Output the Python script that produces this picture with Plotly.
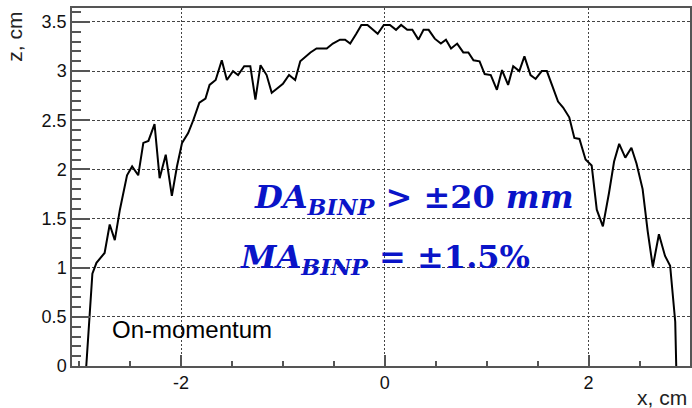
import plotly.graph_objects as go

# Dynamic aperture boundary, on-momentum
x_cm = [-2.93, -2.87, -2.83, -2.75, -2.70, -2.65, -2.60, -2.53, -2.48, -2.42,
        -2.37, -2.32, -2.26, -2.21, -2.15, -2.09, -2.04, -1.99, -1.93, -1.88,
        -1.82, -1.76, -1.72, -1.66, -1.60, -1.55, -1.49, -1.44, -1.38, -1.32,
        -1.27, -1.22, -1.16, -1.11, -1.06, -1.00, -0.94, -0.88, -0.83, -0.77,
        -0.73, -0.67, -0.57, -0.51, -0.44, -0.39, -0.34, -0.28, -0.23, -0.17,
        -0.12, -0.07, -0.01, 0.05, 0.11, 0.16, 0.22, 0.27, 0.33, 0.38,
        0.43, 0.49, 0.55, 0.60, 0.65, 0.71, 0.77, 0.82, 0.87, 0.93,
        0.98, 1.04, 1.10, 1.15, 1.21, 1.26, 1.32, 1.37, 1.43, 1.48,
        1.54, 1.59, 1.64, 1.70, 1.75, 1.81, 1.86, 1.91, 1.97, 2.03,
        2.08, 2.14, 2.20, 2.25, 2.30, 2.36, 2.42, 2.47, 2.53, 2.58,
        2.63, 2.69, 2.75, 2.80, 2.85, 2.86]
z_cm = [0.00, 0.94, 1.05, 1.15, 1.44, 1.28, 1.59, 1.94, 2.03, 1.94,
        2.27, 2.29, 2.46, 1.91, 2.15, 1.73, 2.03, 2.27, 2.37, 2.50,
        2.68, 2.72, 2.86, 2.91, 3.11, 2.91, 3.00, 2.96, 3.05, 3.05,
        2.71, 3.06, 2.96, 2.78, 2.82, 2.87, 2.96, 2.91, 3.10, 3.15,
        3.19, 3.23, 3.23, 3.28, 3.32, 3.32, 3.28, 3.38, 3.47, 3.47,
        3.42, 3.38, 3.47, 3.47, 3.42, 3.47, 3.42, 3.42, 3.32, 3.42,
        3.42, 3.33, 3.28, 3.32, 3.23, 3.28, 3.19, 3.19, 3.11, 3.10,
        2.97, 2.96, 2.81, 3.01, 2.86, 3.05, 3.00, 3.15, 2.96, 2.92,
        3.00, 3.00, 2.86, 2.69, 2.63, 2.53, 2.32, 2.31, 2.10, 2.04,
        1.59, 1.42, 1.76, 2.08, 2.26, 2.12, 2.22, 2.06, 1.80, 1.37,
        1.01, 1.34, 1.12, 1.02, 0.45, 0.00]

x_tick_vals = [-2, 0, 2]
x_tick_text = ["-2", "0", "2"]
y_tick_vals = [0, 0.5, 1, 1.5, 2, 2.5, 3, 3.5]
y_tick_text = ["0", "0.5", "1", "1.5", "2", "2.5", "3", "3.5"]

label_x = "x, cm"
label_y = "z, cm"
label_case = "On-momentum"
label_da = "<b><i>DA</i><sub><i>BINP</i></sub> &gt; ±20 <i>mm</i></b>"
label_ma = "<b><i>MA</i><sub><i>BINP</i></sub> = ±1.5%</b>"

n = min(len(x_cm), len(z_cm))
fig = go.Figure()
fig.add_trace(go.Scatter(x=x_cm[:n], y=z_cm[:n], mode="lines",
                         line=dict(color="black", width=2), showlegend=False,
                         hoverinfo="skip"))

axis_common = dict(showline=True, linecolor="#555555", linewidth=1.5, mirror=True,
                   ticks="inside", tickcolor="#555555", tickwidth=1.5,
                   gridcolor="#444444", gridwidth=1, zeroline=False, automargin=False,
                   tickfont=dict(family="Liberation Sans, Arial", size=18, color="#111111"))

fig.update_xaxes(range=[-3.07, 2.995], tickvals=x_tick_vals, ticktext=x_tick_text,
                 ticklen=11, griddash="2px,2px",
                 minor=dict(ticks="inside", dtick=0.5, tick0=0, ticklen=5.5,
                            tickcolor="#555555", tickwidth=1.5, showgrid=False),
                 **axis_common)
fig.update_yaxes(range=[0, 3.642], tickvals=y_tick_vals, ticktext=y_tick_text,
                 ticklen=18, griddash="3px,2px",
                 minor=dict(ticks="inside", dtick=0.1, tick0=0, ticklen=9,
                            tickcolor="#555555", tickwidth=1.5, showgrid=False),
                 **axis_common)

fig.update_layout(
    width=692, height=408,
    margin=dict(l=72, r=2, t=8, b=42),
    plot_bgcolor="white", paper_bgcolor="white",
    annotations=[
        dict(text=label_y, xref="paper", yref="paper", x=(15 - 72) / 618, y=0.995,
             xanchor="center", yanchor="top", textangle=-90, showarrow=False,
             font=dict(family="Liberation Sans, Arial", size=21, color="#222222")),
        dict(text=label_x, xref="paper", yref="paper", x=(689 - 72) / 618, y=(366 - 397) / 358,
             xanchor="right", yanchor="middle", showarrow=False,
             font=dict(family="Liberation Sans, Arial", size=21, color="#222222")),
        dict(text=label_case, xref="x", yref="y", x=-2.70, y=0.37,
             xanchor="left", yanchor="middle", showarrow=False,
             font=dict(family="Liberation Sans, Arial", size=24, color="black")),
        dict(text=label_da, xref="x", yref="y", x=-1.30, y=1.70,
             xanchor="left", yanchor="middle", showarrow=False,
             font=dict(family="DejaVu Serif", size=32, color="#0a14c8")),
        dict(text=label_ma, xref="x", yref="y", x=-1.44, y=1.09,
             xanchor="left", yanchor="middle", showarrow=False,
             font=dict(family="DejaVu Serif", size=32, color="#0a14c8")),
    ],
)

fig.write_html("out.html", config={"displayModeBar": False},
               post_script="document.body.style.margin='0px';")
